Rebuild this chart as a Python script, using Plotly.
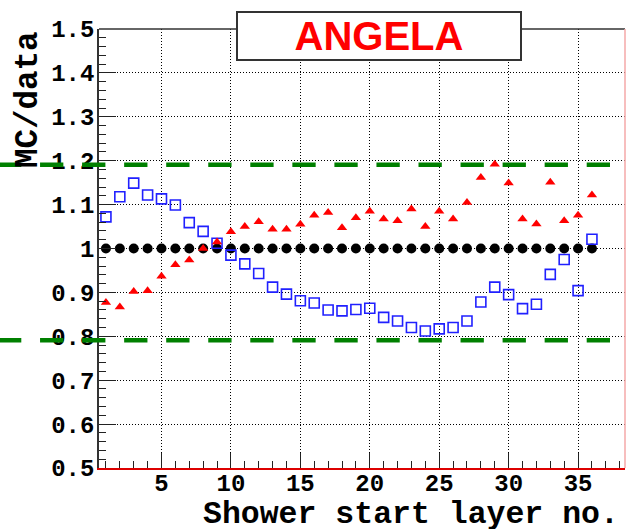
import plotly.graph_objects as go

# Shower start layer (x) and MC/data ratios for the three samples
layers = list(range(1, 37))
ratio_reference = [1.0] * 36
ratio_blue = [1.072, 1.118, 1.149, 1.122, 1.113, 1.099, 1.059, 1.039, 1.012, 0.985,
              0.965, 0.943, 0.912, 0.896, 0.881, 0.876, 0.860, 0.858, 0.861, 0.864,
              0.843, 0.835, 0.820, 0.812, 0.817, 0.820, 0.835, 0.878, 0.912, 0.895,
              0.863, 0.873, 0.941, 0.975, 0.904, 1.021]
ratio_red = [0.877, 0.867, 0.902, 0.904, 0.937, 0.963, 0.974, 1.000, 1.015, 1.038,
             1.050, 1.061, 1.044, 1.044, 1.055, 1.076, 1.082, 1.047, 1.070, 1.085,
             1.067, 1.063, 1.090, 1.050, 1.085, 1.067, 1.105, 1.162, 1.192, 1.149,
             1.067, 1.056, 1.151, 1.063, 1.076, 1.122]

# Band limits drawn as green dashed lines
band_levels = [1.191, 0.791]

y_tickvals = [0.5, 0.6, 0.7, 0.8, 0.9, 1.0, 1.1, 1.2, 1.3, 1.4, 1.5]
y_ticktext = ["0.5", "0.6", "0.7", "0.8", "0.9", "1", "1.1", "1.2", "1.3", "1.4", "1.5"]
x_tickvals = [5, 10, 15, 20, 25, 30, 35]
x_ticktext = ["5", "10", "15", "20", "25", "30", "35"]

MONO = "Liberation Mono, Courier New, monospace"

fig = go.Figure()

fig.add_trace(go.Scatter(
    x=layers, y=ratio_reference, mode="markers",
    marker=dict(symbol="circle", size=10, color="black"),
    showlegend=False))
fig.add_trace(go.Scatter(
    x=layers, y=ratio_blue, mode="markers",
    marker=dict(symbol="square-open", size=10, color="#2020ff",
                line=dict(width=1.6, color="#2020ff")),
    showlegend=False))
fig.add_trace(go.Scatter(
    x=layers, y=ratio_red, mode="markers",
    marker=dict(symbol="triangle-up", size=9, color="#ff0000"),
    showlegend=False))

# green dashed limits, running out past the left frame
for lvl in band_levels:
    fig.add_shape(type="line", xref="paper", yref="y",
                  x0=-101.0 / 526, x1=1.0, y0=lvl, y1=lvl,
                  line=dict(color="#008000", width=4.5, dash="23.3px,18.75px"),
                  layer="above")

# top and right frame edges
fig.add_shape(type="line", xref="paper", yref="paper", x0=0, x1=1, y0=1, y1=1,
              line=dict(color="#333333", width=1.5), layer="above")
fig.add_shape(type="line", xref="paper", yref="paper", x0=1, x1=1, y0=0, y1=1,
              line=dict(color="#f4a8a8", width=1.5), layer="above")

fig.update_xaxes(
    range=[0.5, 38.38],
    tickvals=x_tickvals, ticktext=x_ticktext,
    ticks="inside", ticklen=15, tickwidth=1.3, tickcolor="#222222",
    minor=dict(ticks="inside", ticklen=7, tickwidth=1.2, tickcolor="#222222",
               dtick=1, tick0=0, showgrid=False),
    showgrid=True, gridcolor="black", gridwidth=1, griddash="1px,2px",
    showline=True, linecolor="#dd0000", linewidth=2,
    zeroline=False,
    tickfont=dict(family=MONO, size=24, color="black", weight="bold"),
    ticklabelstandoff=-8,
)
fig.update_yaxes(
    range=[0.5, 1.5],
    tickvals=y_tickvals, ticktext=y_ticktext,
    ticks="inside", ticklen=17, tickwidth=1.3, tickcolor="#222222",
    minor=dict(ticks="inside", ticklen=7.5, tickwidth=1.2, tickcolor="#222222",
               dtick=0.02, tick0=0.5, showgrid=False),
    showgrid=True, gridcolor="black", gridwidth=1, griddash="1px,2px",
    showline=True, linecolor="#333333", linewidth=1.5,
    zeroline=False,
    tickfont=dict(family=MONO, size=24, color="black", weight="bold"),
    ticklabelstandoff=-2,
)

# axis titles
fig.add_annotation(
    text="MC/data", textangle=-90, xref="paper", yref="paper",
    x=(28.5 - 99) / 526, y=(468 - 29) / 439, xanchor="center", yanchor="top",
    showarrow=False,
    font=dict(family=MONO, size=32.5, color="black", weight="bold"))
fig.add_annotation(
    text="Shower start layer no.", xref="paper", yref="paper",
    x=(621 - 99) / 526, y=(468 - 514) / 439, xanchor="right", yanchor="middle",
    showarrow=False,
    font=dict(family=MONO, size=31.5, color="black", weight="bold"))

# boxed label
fig.add_annotation(
    text="<b>ANGELA</b>", xref="paper", yref="paper",
    x=(379.3 - 99) / 526, y=(468 - 36) / 439, xanchor="center", yanchor="middle",
    showarrow=False, width=282, height=46, borderpad=0,
    bgcolor="white", bordercolor="#333333", borderwidth=2,
    font=dict(family="Liberation Sans, Arial, sans-serif", size=40, color="#ff0000"))

fig.update_layout(
    width=626, height=529,
    margin=dict(l=99, r=1, t=29, b=61),
    paper_bgcolor="white", plot_bgcolor="white",
    showlegend=False,
)

fig.write_html("out.html")
